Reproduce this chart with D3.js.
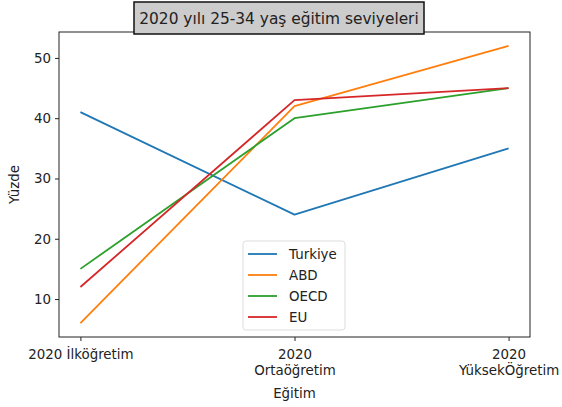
<!DOCTYPE html>
<html>
<head>
<meta charset="utf-8">
<script src="https://cdn.jsdelivr.net/npm/d3@7"></script>
<style>
  body { margin: 0; background: #fff; }
  svg { display: block; font-family: 'DejaVu Sans', sans-serif; }
</style>
</head>
<body>
<div id="root"></div>
<script>
// data
const categories = ['2020 İlköğretim', '2020\nOrtaöğretim', '2020\nYüksekÖğretim'];
const seriesNames = ['Turkiye', 'ABD', 'OECD', 'EU'];
const turkiye = [41, 24, 35];
const abd = [6, 42, 52];
const oecd = [15, 40, 45];
const eu = [12, 43, 45];
const yTicks = [10, 20, 30, 40, 50];
const colors = ['#1f77b4', '#ff7f0e', '#2ca02c', '#d62728'];

const series = [turkiye, abd, oecd, eu];

const width = 562;
const height = 407;
const padLeft = 59, padRight = 530, padTop = 32, padBottom = 337;
const fontSize = 13.4;

const svg = d3.select('#root')
  .append('svg')
  .attr('width', width)
  .attr('height', height);

const xScale = d3.scaleLinear()
  .domain([-0.1, 2.1])
  .range([padLeft, padRight]);

const yScale = d3.scaleLinear()
  .domain([3.7, 54.3])
  .range([padBottom, padTop]);

// lines
const line = d3.line()
  .x((d, i) => xScale(i))
  .y((d) => yScale(d));

svg.selectAll('.series')
  .data(series)
  .enter()
  .append('path')
  .attr('class', 'series')
  .attr('d', (d) => line(d))
  .attr('fill', 'none')
  .attr('stroke', (d, i) => colors[i])
  .attr('stroke-width', 1.8)
  .attr('stroke-linejoin', 'round');

// frame
svg.append('rect')
  .attr('x', padLeft)
  .attr('y', padTop)
  .attr('width', padRight - padLeft)
  .attr('height', padBottom - padTop)
  .attr('fill', 'none')
  .attr('stroke', '#222')
  .attr('stroke-width', 1);

// y axis
const yAxis = d3.axisLeft(yScale)
  .tickValues(yTicks)
  .tickSize(4)
  .tickPadding(4);

const yG = svg.append('g')
  .attr('transform', `translate(${padLeft}, 0)`)
  .call(yAxis);
yG.select('.domain').remove();
yG.selectAll('.tick line').attr('stroke', '#222');
yG.selectAll('.tick text')
  .attr('fill', '#222')
  .style('font-size', fontSize + 'px')
  .style('font-family', 'DejaVu Sans');

// x axis
const xAxis = d3.axisBottom(xScale)
  .tickValues([0, 1, 2])
  .tickSize(4)
  .tickFormat(() => '');

const xG = svg.append('g')
  .attr('transform', `translate(0, ${padBottom})`)
  .call(xAxis);
xG.select('.domain').remove();
xG.selectAll('.tick line').attr('stroke', '#222');

xG.selectAll('.tick')
  .append('text')
  .attr('fill', '#222')
  .attr('text-anchor', 'middle')
  .style('font-size', fontSize + 'px')
  .style('font-family', 'DejaVu Sans')
  .each(function (d) {
    const parts = categories[d].split('\n');
    const t = d3.select(this);
    parts.forEach((p, j) => {
      t.append('tspan')
        .attr('x', 0)
        .attr('y', 22 + j * 16)
        .text(p);
    });
  });

// axis labels
svg.append('text')
  .attr('x', xScale(1))
  .attr('y', 398)
  .attr('text-anchor', 'middle')
  .attr('fill', '#222')
  .style('font-size', fontSize + 'px')
  .text('Eğitim');

svg.append('text')
  .attr('transform', `translate(19, ${(padTop + padBottom) / 2}) rotate(-90)`)
  .attr('text-anchor', 'middle')
  .attr('fill', '#222')
  .style('font-size', fontSize + 'px')
  .text('Yüzde');

// title with box
svg.append('rect')
  .attr('x', 134)
  .attr('y', 2)
  .attr('width', 290)
  .attr('height', 32)
  .attr('fill', '#cccccc')
  .attr('stroke', '#111')
  .attr('stroke-width', 1.5);

svg.append('text')
  .attr('x', 279)
  .attr('y', 24)
  .attr('text-anchor', 'middle')
  .attr('fill', '#222')
  .style('font-size', '15.4px')
  .text('2020 yılı 25-34 yaş eğitim seviyeleri');

// legend
const legend = svg.append('g')
  .attr('transform', 'translate(243, 241)');

legend.append('rect')
  .attr('width', 102)
  .attr('height', 89)
  .attr('rx', 3)
  .attr('fill', '#fff')
  .attr('fill-opacity', 0.8)
  .attr('stroke', '#ddd');

const items = legend.selectAll('.item')
  .data(seriesNames)
  .enter()
  .append('g')
  .attr('class', 'item')
  .attr('transform', (d, i) => `translate(0, ${13 + i * 21})`);

items.append('line')
  .attr('x1', 5)
  .attr('x2', 34)
  .attr('stroke', (d, i) => colors[i])
  .attr('stroke-width', 1.8);

items.append('text')
  .attr('x', 46)
  .attr('y', 5)
  .attr('fill', '#222')
  .style('font-size', fontSize + 'px')
  .text((d) => d);
</script>
</body>
</html>
